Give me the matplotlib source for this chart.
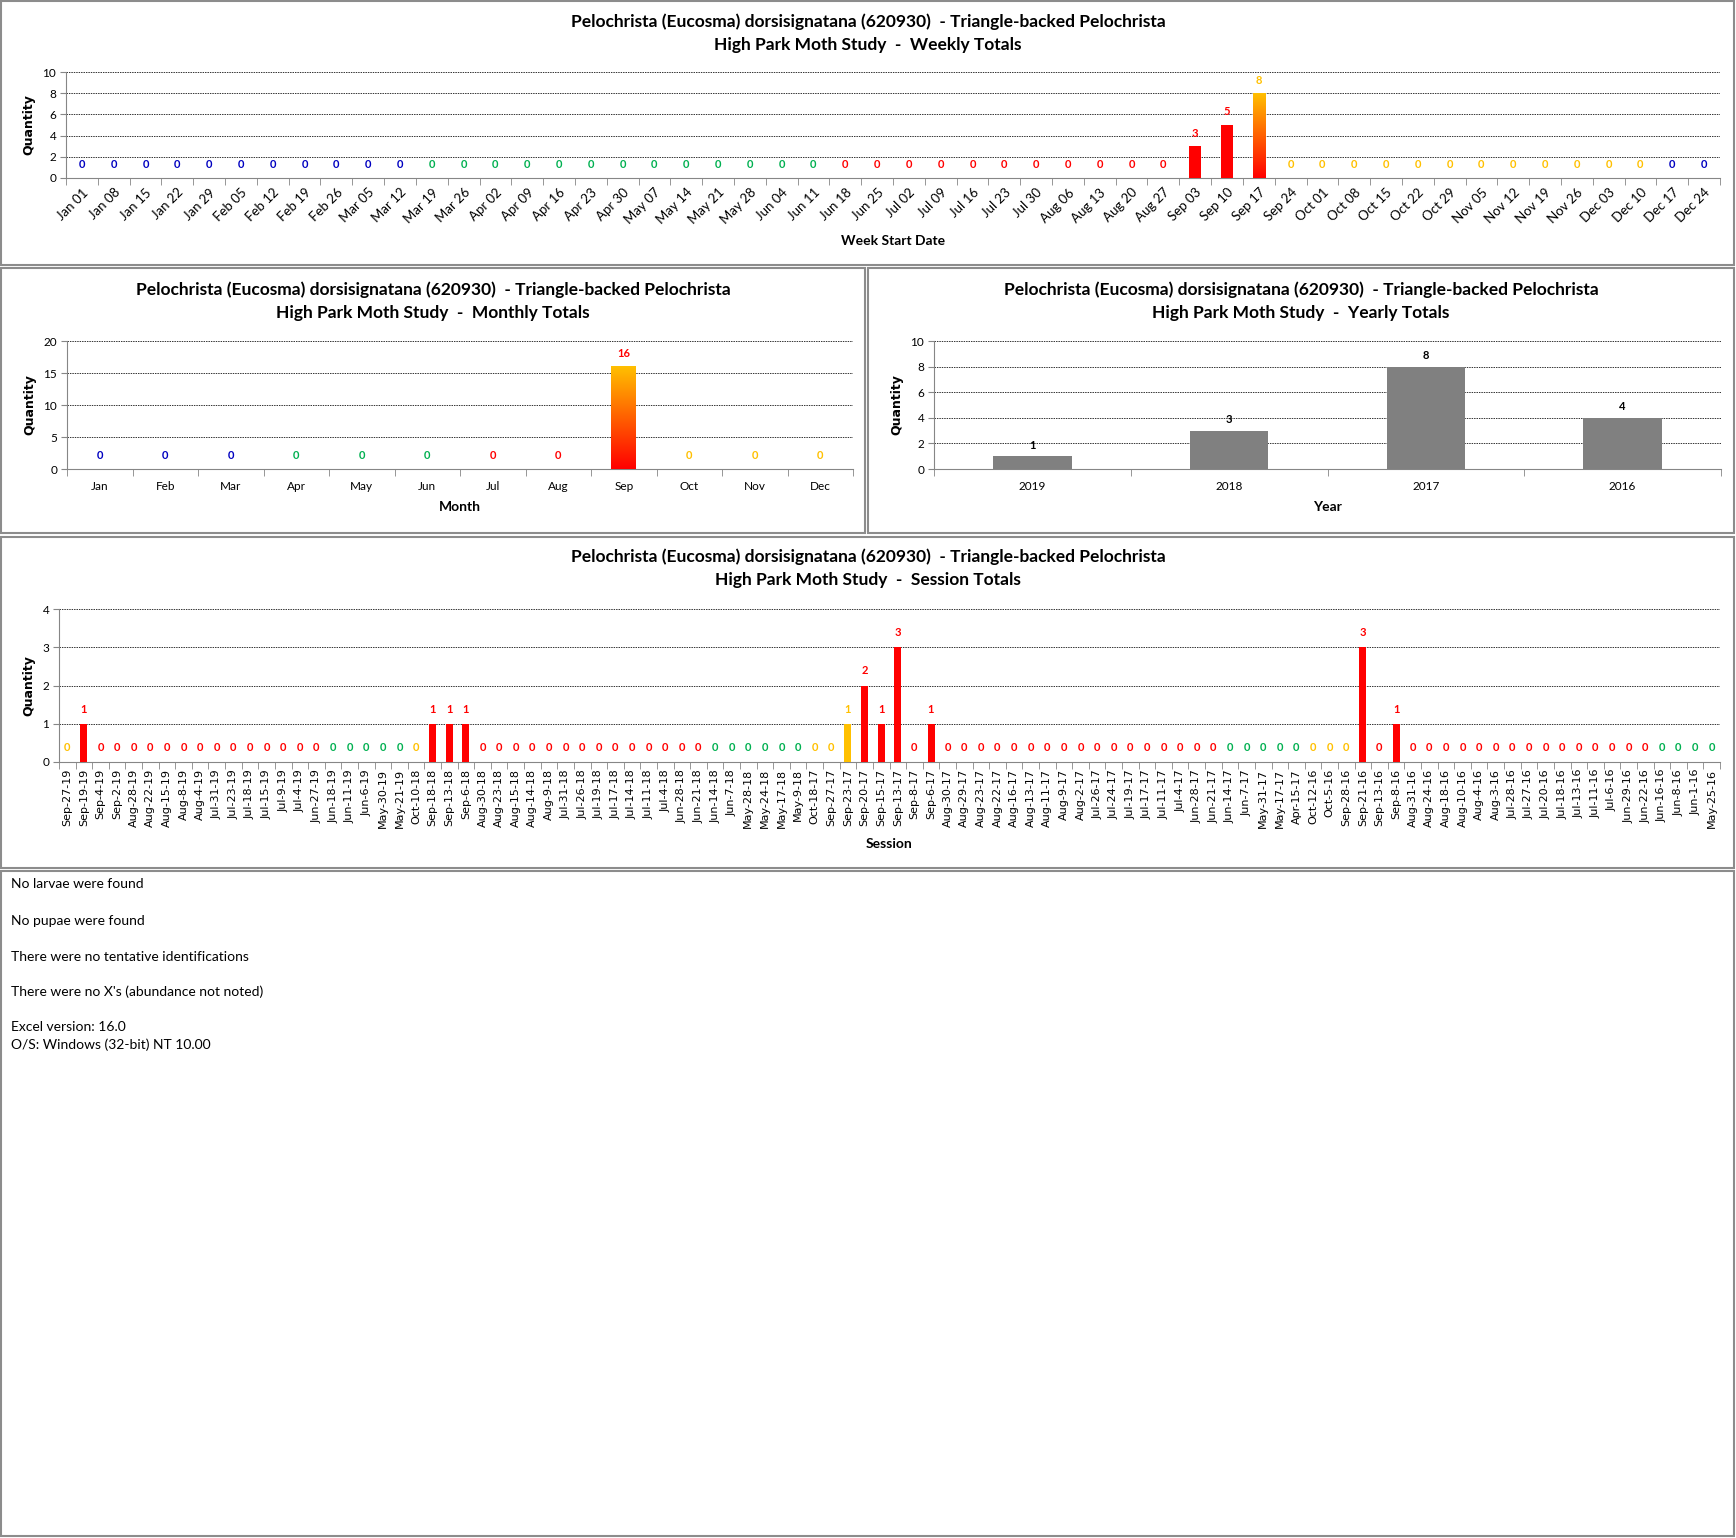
import datetime as dt
import numpy as np
import matplotlib
matplotlib.use('Agg')
import matplotlib.pyplot as plt
from matplotlib.colors import LinearSegmentedColormap
from matplotlib.patches import Rectangle

plt.rcParams['font.family'] = ['Lato', 'DejaVu Sans']

W, H = 1736, 1538

species = 'Pelochrista (Eucosma) dorsisignatana (620930)  - Triangle-backed Pelochrista'
study = 'High Park Moth Study  -  '

# weekly totals
week_labels = ['Jan 01', 'Jan 08', 'Jan 15', 'Jan 22', 'Jan 29', 'Feb 05', 'Feb 12', 'Feb 19',
               'Feb 26', 'Mar 05', 'Mar 12', 'Mar 19', 'Mar 26', 'Apr 02', 'Apr 09', 'Apr 16',
               'Apr 23', 'Apr 30', 'May 07', 'May 14', 'May 21', 'May 28', 'Jun 04', 'Jun 11',
               'Jun 18', 'Jun 25', 'Jul 02', 'Jul 09', 'Jul 16', 'Jul 23', 'Jul 30', 'Aug 06',
               'Aug 13', 'Aug 20', 'Aug 27', 'Sep 03', 'Sep 10', 'Sep 17', 'Sep 24', 'Oct 01',
               'Oct 08', 'Oct 15', 'Oct 22', 'Oct 29', 'Nov 05', 'Nov 12', 'Nov 19', 'Nov 26',
               'Dec 03', 'Dec 10', 'Dec 17', 'Dec 24']
week_counts = [0, 0, 0, 0, 0, 0, 0, 0, 0, 0, 0, 0, 0,
               0, 0, 0, 0, 0, 0, 0, 0, 0, 0, 0, 0, 0,
               0, 0, 0, 0, 0, 0, 0, 0, 0, 3, 5, 8, 0,
               0, 0, 0, 0, 0, 0, 0, 0, 0, 0, 0, 0, 0]

# monthly totals
month_labels = ['Jan', 'Feb', 'Mar', 'Apr', 'May', 'Jun', 'Jul', 'Aug', 'Sep', 'Oct', 'Nov', 'Dec']
month_counts = [0, 0, 0, 0, 0, 0, 0, 0, 16, 0, 0, 0]

# yearly totals
year_labels = ['2019', '2018', '2017', '2016']
year_counts = [1, 3, 8, 4]

# session totals
session_labels = [
    'Sep-27-19', 'Sep-19-19', 'Sep-4-19', 'Sep-2-19', 'Aug-28-19', 'Aug-22-19', 'Aug-15-19', 'Aug-8-19', 'Aug-4-19', 'Jul-31-19',
    'Jul-23-19', 'Jul-18-19', 'Jul-15-19', 'Jul-9-19', 'Jul-4-19', 'Jun-27-19', 'Jun-18-19', 'Jun-11-19', 'Jun-6-19', 'May-30-19',
    'May-21-19', 'Oct-10-18', 'Sep-18-18', 'Sep-13-18', 'Sep-6-18', 'Aug-30-18', 'Aug-23-18', 'Aug-15-18', 'Aug-14-18', 'Aug-9-18',
    'Jul-31-18', 'Jul-26-18', 'Jul-19-18', 'Jul-17-18', 'Jul-14-18', 'Jul-11-18', 'Jul-4-18', 'Jun-28-18', 'Jun-21-18', 'Jun-14-18',
    'Jun-7-18', 'May-28-18', 'May-24-18', 'May-17-18', 'May-9-18', 'Oct-18-17', 'Sep-27-17', 'Sep-23-17', 'Sep-20-17', 'Sep-15-17',
    'Sep-13-17', 'Sep-8-17', 'Sep-6-17', 'Aug-30-17', 'Aug-29-17', 'Aug-23-17', 'Aug-22-17', 'Aug-16-17', 'Aug-13-17', 'Aug-11-17',
    'Aug-9-17', 'Aug-2-17', 'Jul-26-17', 'Jul-24-17', 'Jul-19-17', 'Jul-17-17', 'Jul-11-17', 'Jul-4-17', 'Jun-28-17', 'Jun-21-17',
    'Jun-14-17', 'Jun-7-17', 'May-31-17', 'May-17-17', 'Apr-15-17', 'Oct-12-16', 'Oct-5-16', 'Sep-28-16', 'Sep-21-16', 'Sep-13-16',
    'Sep-8-16', 'Aug-31-16', 'Aug-24-16', 'Aug-18-16', 'Aug-10-16', 'Aug-4-16', 'Aug-3-16', 'Jul-28-16', 'Jul-27-16', 'Jul-20-16',
    'Jul-18-16', 'Jul-13-16', 'Jul-11-16', 'Jul-6-16', 'Jun-29-16', 'Jun-22-16', 'Jun-16-16', 'Jun-8-16', 'Jun-1-16', 'May-25-16']
session_counts = [
    0, 1, 0, 0, 0, 0, 0, 0, 0, 0,
    0, 0, 0, 0, 0, 0, 0, 0, 0, 0,
    0, 0, 1, 1, 1, 0, 0, 0, 0, 0,
    0, 0, 0, 0, 0, 0, 0, 0, 0, 0,
    0, 0, 0, 0, 0, 0, 0, 1, 2, 1,
    3, 0, 1, 0, 0, 0, 0, 0, 0, 0,
    0, 0, 0, 0, 0, 0, 0, 0, 0, 0,
    0, 0, 0, 0, 0, 0, 0, 0, 3, 0,
    1, 0, 0, 0, 0, 0, 0, 0, 0, 0,
    0, 0, 0, 0, 0, 0, 0, 0, 0, 0]

notes = ['No larvae were found', 'No pupae were found', 'There were no tentative identifications',
         "There were no X's (abundance not noted)", 'Excel version: 16.0', 'O/S: Windows (32-bit) NT 10.00']

BLUE, GREEN, RED, YELLOW = '#0000c0', '#00b050', '#ff0000', '#ffc000'
grad_cmap = LinearSegmentedColormap.from_list('ry', [RED, YELLOW])


def season(d):
    md = (d.month, d.day)
    if md >= (12, 21) or md < (3, 20):
        return BLUE
    if md < (6, 21):
        return GREEN
    if md < (9, 22):
        return RED
    return YELLOW


def box(l, t, r, b):
    return [l / W, 1 - b / H, (r - l) / W, (b - t) / H]


def style(ax, n, ymax, ystep):
    ax.set_xlim(-0.5, n - 0.5)
    ax.set_ylim(0, ymax)
    ax.set_yticks(np.arange(0, ymax + 1, ystep))
    ax.grid(axis='y', color='#333333', linestyle=(0, (1.5, 1)), linewidth=0.7)
    ax.set_axisbelow(True)
    for s in ['top', 'right']:
        ax.spines[s].set_visible(False)
    for s in ['left', 'bottom']:
        ax.spines[s].set_color('#868686')
    ax.tick_params(axis='y', length=4, color='#868686', labelsize=8.5, pad=3)
    ax.set_xticks(np.arange(n))
    ax.set_xticks(np.arange(-0.5, n, 1), minor=True)
    ax.tick_params(axis='x', which='major', length=0)
    ax.tick_params(axis='x', which='minor', length=5, color='#868686')
    ax.set_ylabel('Quantity', family='DejaVu Sans', fontweight='bold', fontsize=9, labelpad=5)


def labels(ax, values, colors, off=9.5, size=8):
    for i, v in enumerate(values):
        ax.annotate(str(v), (i, v), xytext=(0, off), textcoords='offset points',
                    ha='center', va='center', color=colors[i], fontweight='bold', fontsize=size)


def gradient(ax, bar):
    x, y = bar.get_xy()
    g = np.linspace(0, 1, 256).reshape(-1, 1)
    ax.imshow(g, extent=[x, x + bar.get_width(), y, y + bar.get_height()], origin='lower',
              aspect='auto', cmap=grad_cmap, zorder=3)
    bar.set_visible(False)


def titles(cx, y1, y2, kind):
    fig.text(cx / W, 1 - y1 / H, species, ha='center', va='center', fontsize=12.5, fontweight='bold')
    fig.text(cx / W, 1 - y2 / H, study + kind, ha='center', va='center', fontsize=12.5, fontweight='bold')


fig = plt.figure(figsize=(W / 100, H / 100), dpi=100)

# panel frames
for l, t, r, b in [(1, 1, 1734, 265), (1, 268, 865, 533), (868, 268, 1734, 533),
                   (1, 537, 1734, 868), (1, 871, 1734, 1536)]:
    fig.add_artist(Rectangle((l / W, 1 - b / H), (r - l) / W, (b - t) / H, transform=fig.transFigure,
                             fill=False, edgecolor='#8c8c8c', linewidth=1.5))

# weekly
ax = fig.add_axes(box(66, 72, 1720, 178))
wdates = [dt.datetime.strptime(s + ' 2018', '%b %d %Y') for s in week_labels]
wstart = [season(d) for d in wdates]
wend = [season(d + dt.timedelta(days=6)) for d in wdates]
x = np.arange(len(week_counts))
bars = ax.bar(x, week_counts, width=0.38, color=wstart, zorder=3)
for i, b in enumerate(bars):
    if week_counts[i] > 0 and wstart[i] != wend[i]:
        gradient(ax, b)
style(ax, len(week_counts), 10, 2)
ax.set_xticklabels(week_labels, rotation=45, ha='right', va='top', rotation_mode='anchor', fontsize=9.5)
ax.tick_params(axis='x', pad=6)
labels(ax, week_counts, wend)
ax.set_xlabel('Week Start Date', fontweight='bold', fontsize=10, labelpad=6)
titles(868, 22, 45, 'Weekly Totals')

# monthly
ax = fig.add_axes(box(67, 341, 853, 469))
mfirst = [season(dt.date(2018, m, 1)) for m in range(1, 13)]
x = np.arange(len(month_counts))
bars = ax.bar(x, month_counts, width=0.38, color=mfirst, zorder=3)
for i, b in enumerate(bars):
    if month_counts[i] > 0 and mfirst[i] != season(dt.date(2018, i + 1, 30)):
        gradient(ax, b)
style(ax, 12, 20, 5)
ax.set_xticklabels(month_labels, fontsize=8.5)
ax.tick_params(axis='x', pad=9)
labels(ax, month_counts, mfirst)
ax.set_xlabel('Month', fontweight='bold', fontsize=10, labelpad=6)
titles(433, 290, 313, 'Monthly Totals')

# yearly
ax = fig.add_axes(box(934, 341, 1721, 469))
x = np.arange(len(year_counts))
ax.bar(x, year_counts, width=0.4, color='#808080', zorder=3)
style(ax, 4, 10, 2)
ax.set_xticklabels(year_labels, fontsize=8.5)
ax.tick_params(axis='x', pad=9)
labels(ax, year_counts, ['black'] * 4, off=8)
ax.set_xlabel('Year', fontweight='bold', fontsize=10, labelpad=6)
titles(1301, 290, 313, 'Yearly Totals')

# sessions
ax = fig.add_axes(box(59, 609, 1720, 762))
sdates = [dt.datetime.strptime(s, '%b-%d-%y') for s in session_labels]
scol = [season(d) for d in sdates]
x = np.arange(len(session_counts))
ax.bar(x, session_counts, width=0.42, color=scol, zorder=3)
style(ax, len(session_counts), 4, 1)
ax.set_xticklabels(session_labels, rotation=90, ha='center', va='top', family='DejaVu Sans', fontsize=8)
ax.tick_params(axis='x', pad=5)
labels(ax, session_counts, scol, off=10.5)
ax.set_xlabel('Session', fontweight='bold', fontsize=10, labelpad=7)
titles(868, 557, 580, 'Session Totals')

# notes
for txt, y in zip(notes, [884, 921, 957, 992, 1027, 1045]):
    fig.text(11 / W, 1 - y / H, txt, ha='left', va='center', fontsize=10)

fig.savefig('out.png', dpi=100, facecolor='white')
